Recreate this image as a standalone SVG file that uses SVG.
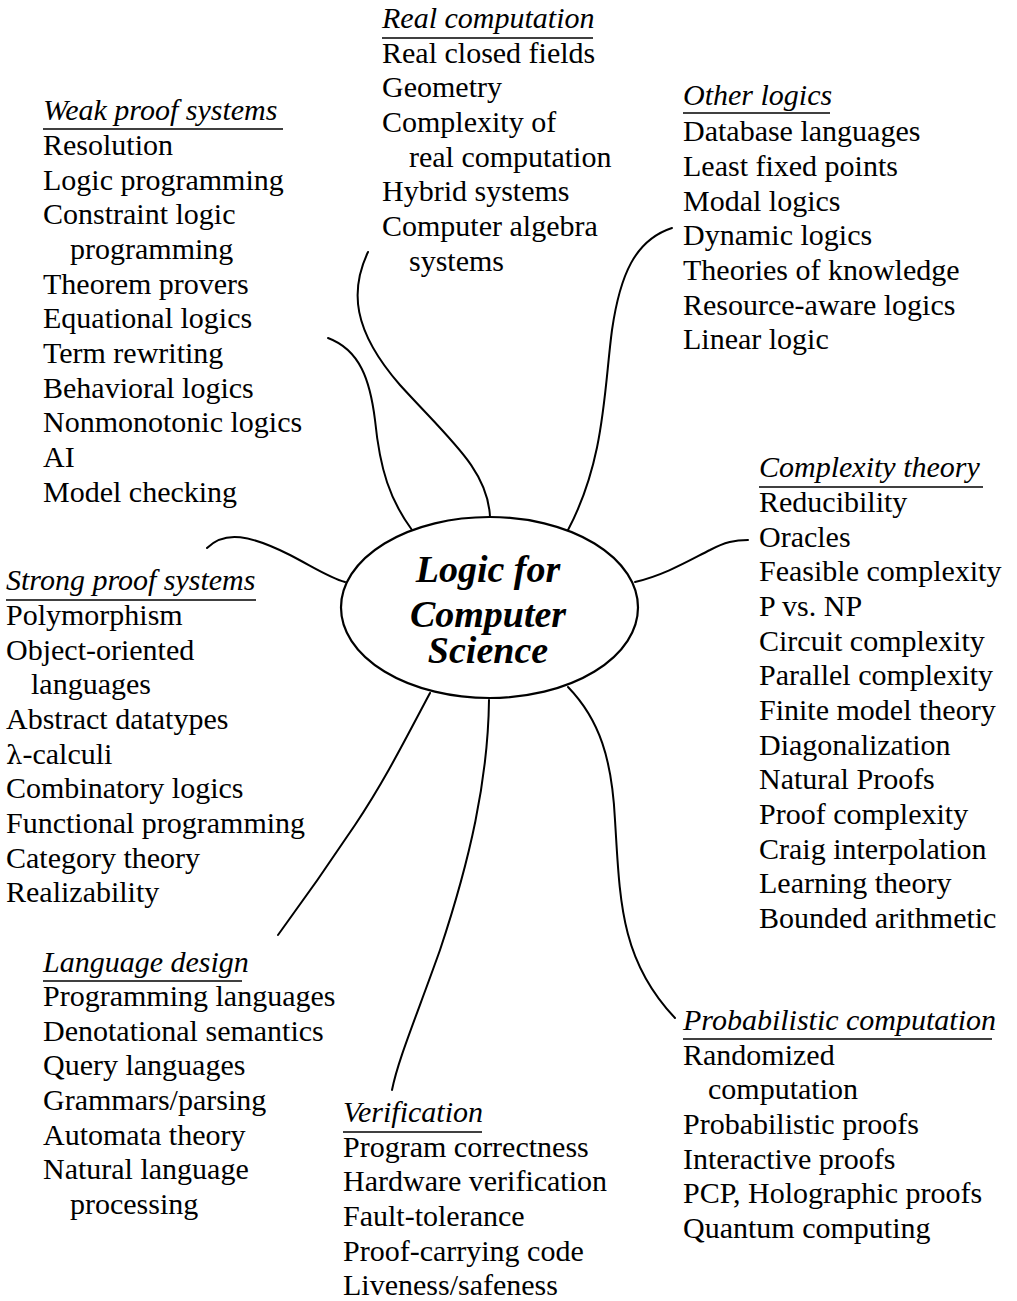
<svg xmlns="http://www.w3.org/2000/svg" width="1017" height="1301" viewBox="0 0 1017 1301">
<rect width="1017" height="1301" fill="#fff"/>
<g id="connectors" stroke="#000" stroke-width="2" fill="none" stroke-linecap="round">
<path d="M368 252 C350 290,352 330,400 385 C450 440,488 470,490 517"/>
<path d="M672 228 C635 240,620 275,612 330 C604 390,605 460,568 530"/>
<path d="M328 338 C360 350,370 380,375 420 C380 470,390 500,412 530"/>
<path d="M207 548 C225 530,250 535,290 555 C315 568,330 578,345 582"/>
<path d="M635 582 C665 575,690 560,710 550 C725 542,735 540,748 540"/>
<path d="M568 687 C600 720,612 760,615 820 C620 900,620 960,675 1018"/>
<path d="M489 700 C488 780,470 860,440 950 C415 1020,398 1060,392 1090"/>
<path d="M430 693 C405 740,385 780,355 825 C325 870,300 905,278 935"/>
</g>
<g id="center">
<ellipse cx="489.5" cy="607.5" rx="148.5" ry="90.5" stroke="#000" stroke-width="2.2" fill="#fff"/>
<text font-family="Liberation Serif" font-size="38" font-weight="bold" font-style="italic" text-anchor="middle" x="488" y="582">Logic for</text>
<text font-family="Liberation Serif" font-size="38" font-weight="bold" font-style="italic" text-anchor="middle" x="488" y="627">Computer</text>
<text font-family="Liberation Serif" font-size="38" font-weight="bold" font-style="italic" text-anchor="middle" x="488" y="663">Science</text>
</g>
<g id="weak">
<text font-family="Liberation Serif" font-size="30" font-style="italic" x="43" y="120">Weak proof systems</text>
<line x1="43" y1="129" x2="283" y2="129" stroke="#000" stroke-width="1.6"/>
<text font-family="Liberation Serif" font-size="30" x="43" y="155">Resolution</text>
<text font-family="Liberation Serif" font-size="30" x="43" y="190">Logic programming</text>
<text font-family="Liberation Serif" font-size="30" x="43" y="224">Constraint logic</text>
<text font-family="Liberation Serif" font-size="30" x="70" y="259">programming</text>
<text font-family="Liberation Serif" font-size="30" x="43" y="294">Theorem provers</text>
<text font-family="Liberation Serif" font-size="30" x="43" y="328">Equational logics</text>
<text font-family="Liberation Serif" font-size="30" x="43" y="363">Term rewriting</text>
<text font-family="Liberation Serif" font-size="30" x="43" y="398">Behavioral logics</text>
<text font-family="Liberation Serif" font-size="30" x="43" y="432">Nonmonotonic logics</text>
<text font-family="Liberation Serif" font-size="30" x="43" y="467">AI</text>
<text font-family="Liberation Serif" font-size="30" x="43" y="502">Model checking</text>
</g>
<g id="real">
<text font-family="Liberation Serif" font-size="30" font-style="italic" x="382" y="28">Real computation</text>
<line x1="382" y1="38" x2="593" y2="38" stroke="#000" stroke-width="1.6"/>
<text font-family="Liberation Serif" font-size="30" x="382" y="63">Real closed fields</text>
<text font-family="Liberation Serif" font-size="30" x="382" y="97">Geometry</text>
<text font-family="Liberation Serif" font-size="30" x="382" y="132">Complexity of</text>
<text font-family="Liberation Serif" font-size="30" x="409" y="167">real computation</text>
<text font-family="Liberation Serif" font-size="30" x="382" y="201">Hybrid systems</text>
<text font-family="Liberation Serif" font-size="30" x="382" y="236">Computer algebra</text>
<text font-family="Liberation Serif" font-size="30" x="409" y="271">systems</text>
</g>
<g id="other">
<text font-family="Liberation Serif" font-size="30" font-style="italic" x="683" y="105">Other logics</text>
<line x1="683" y1="113" x2="830" y2="113" stroke="#000" stroke-width="1.6"/>
<text font-family="Liberation Serif" font-size="30" x="683" y="141">Database languages</text>
<text font-family="Liberation Serif" font-size="30" x="683" y="176">Least fixed points</text>
<text font-family="Liberation Serif" font-size="30" x="683" y="211">Modal logics</text>
<text font-family="Liberation Serif" font-size="30" x="683" y="245">Dynamic logics</text>
<text font-family="Liberation Serif" font-size="30" x="683" y="280">Theories of knowledge</text>
<text font-family="Liberation Serif" font-size="30" x="683" y="315">Resource-aware logics</text>
<text font-family="Liberation Serif" font-size="30" x="683" y="349">Linear logic</text>
</g>
<g id="strong">
<text font-family="Liberation Serif" font-size="30" font-style="italic" x="6" y="590">Strong proof systems</text>
<line x1="6" y1="600" x2="256" y2="600" stroke="#000" stroke-width="1.6"/>
<text font-family="Liberation Serif" font-size="30" x="6" y="625">Polymorphism</text>
<text font-family="Liberation Serif" font-size="30" x="6" y="660">Object-oriented</text>
<text font-family="Liberation Serif" font-size="30" x="31" y="694">languages</text>
<text font-family="Liberation Serif" font-size="30" x="6" y="729">Abstract datatypes</text>
<text font-family="Liberation Serif" font-size="30" x="6" y="764"><tspan font-family="DejaVu Serif" font-size="26">λ</tspan>-calculi</text>
<text font-family="Liberation Serif" font-size="30" x="6" y="798">Combinatory logics</text>
<text font-family="Liberation Serif" font-size="30" x="6" y="833">Functional programming</text>
<text font-family="Liberation Serif" font-size="30" x="6" y="868">Category theory</text>
<text font-family="Liberation Serif" font-size="30" x="6" y="902">Realizability</text>
</g>
<g id="complexity">
<text font-family="Liberation Serif" font-size="30" font-style="italic" x="759" y="477">Complexity theory</text>
<line x1="759" y1="487" x2="983" y2="487" stroke="#000" stroke-width="1.6"/>
<text font-family="Liberation Serif" font-size="30" x="759" y="512">Reducibility</text>
<text font-family="Liberation Serif" font-size="30" x="759" y="547">Oracles</text>
<text font-family="Liberation Serif" font-size="30" x="759" y="581">Feasible complexity</text>
<text font-family="Liberation Serif" font-size="30" x="759" y="616">P vs. NP</text>
<text font-family="Liberation Serif" font-size="30" x="759" y="651">Circuit complexity</text>
<text font-family="Liberation Serif" font-size="30" x="759" y="685">Parallel complexity</text>
<text font-family="Liberation Serif" font-size="30" x="759" y="720">Finite model theory</text>
<text font-family="Liberation Serif" font-size="30" x="759" y="755">Diagonalization</text>
<text font-family="Liberation Serif" font-size="30" x="759" y="789">Natural Proofs</text>
<text font-family="Liberation Serif" font-size="30" x="759" y="824">Proof complexity</text>
<text font-family="Liberation Serif" font-size="30" x="759" y="859">Craig interpolation</text>
<text font-family="Liberation Serif" font-size="30" x="759" y="893">Learning theory</text>
<text font-family="Liberation Serif" font-size="30" x="759" y="928">Bounded arithmetic</text>
</g>
<g id="language">
<text font-family="Liberation Serif" font-size="30" font-style="italic" x="43" y="972">Language design</text>
<line x1="43" y1="981" x2="242" y2="981" stroke="#000" stroke-width="1.6"/>
<text font-family="Liberation Serif" font-size="30" x="43" y="1006">Programming languages</text>
<text font-family="Liberation Serif" font-size="30" x="43" y="1041">Denotational semantics</text>
<text font-family="Liberation Serif" font-size="30" x="43" y="1075">Query languages</text>
<text font-family="Liberation Serif" font-size="30" x="43" y="1110">Grammars/parsing</text>
<text font-family="Liberation Serif" font-size="30" x="43" y="1145">Automata theory</text>
<text font-family="Liberation Serif" font-size="30" x="43" y="1179">Natural language</text>
<text font-family="Liberation Serif" font-size="30" x="70" y="1214">processing</text>
</g>
<g id="verification">
<text font-family="Liberation Serif" font-size="30" font-style="italic" x="343" y="1122">Verification</text>
<line x1="343" y1="1132" x2="482" y2="1132" stroke="#000" stroke-width="1.6"/>
<text font-family="Liberation Serif" font-size="30" x="343" y="1157">Program correctness</text>
<text font-family="Liberation Serif" font-size="30" x="343" y="1191">Hardware verification</text>
<text font-family="Liberation Serif" font-size="30" x="343" y="1226">Fault-tolerance</text>
<text font-family="Liberation Serif" font-size="30" x="343" y="1261">Proof-carrying code</text>
<text font-family="Liberation Serif" font-size="30" x="343" y="1295">Liveness/safeness</text>
</g>
<g id="probabilistic">
<text font-family="Liberation Serif" font-size="30" font-style="italic" x="683" y="1030">Probabilistic computation</text>
<line x1="683" y1="1039" x2="992" y2="1039" stroke="#000" stroke-width="1.6"/>
<text font-family="Liberation Serif" font-size="30" x="683" y="1065">Randomized</text>
<text font-family="Liberation Serif" font-size="30" x="708" y="1099">computation</text>
<text font-family="Liberation Serif" font-size="30" x="683" y="1134">Probabilistic proofs</text>
<text font-family="Liberation Serif" font-size="30" x="683" y="1169">Interactive proofs</text>
<text font-family="Liberation Serif" font-size="30" x="683" y="1203">PCP, Holographic proofs</text>
<text font-family="Liberation Serif" font-size="30" x="683" y="1238">Quantum computing</text>
</g>
</svg>
